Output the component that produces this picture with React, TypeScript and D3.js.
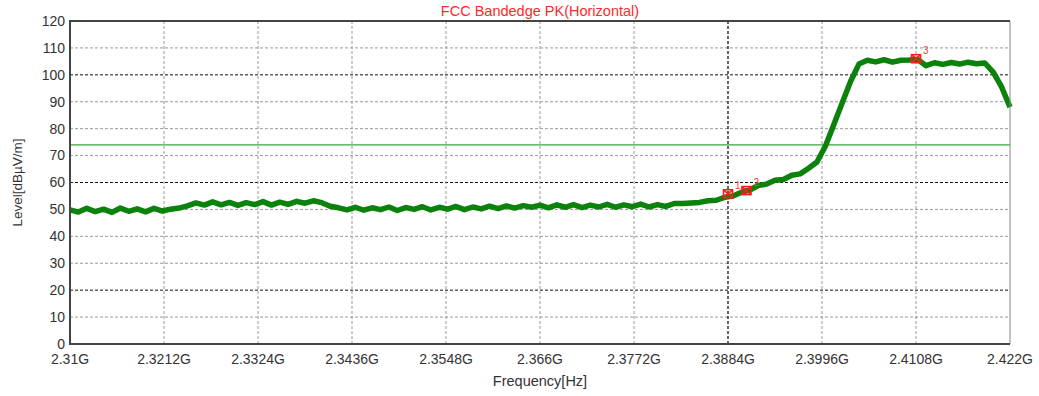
import React from "react";
import { scaleLinear, line, range } from "d3";

// frequency axis (GHz) and level axis (dBuV/m)
const freqTicks = [2.31, 2.3212, 2.3324, 2.3436, 2.3548, 2.366, 2.3772, 2.3884, 2.3996, 2.4108, 2.422];
const freqTickLabels = ["2.31G", "2.3212G", "2.3324G", "2.3436G", "2.3548G", "2.366G", "2.3772G", "2.3884G", "2.3996G", "2.4108G", "2.422G"];
const levelTicks = [0, 10, 20, 30, 40, 50, 60, 70, 80, 90, 100, 110, 120];

// trace frequencies: 2.310 .. 2.422 GHz, 1 MHz step
const traceFreqs = range(0, 113).map((i) => +(2.31 + i * 0.001).toFixed(3));
// trace levels
const traceLevels = [
  49.8, 49.0, 50.4, 49.2, 50.1, 48.9, 50.5, 49.3, 50.2, 49.1, 50.4, 49.4, 50.1, 50.5,
  51.3, 52.4,
  51.6, 52.8, 51.7, 52.6, 51.5, 52.5, 51.8, 52.9, 51.6, 52.7, 51.9, 53.0, 52.3, 53.2,
  52.5, 51.2, 50.6,
  49.8, 50.8, 49.7, 50.6, 49.9, 50.9, 49.6, 50.7, 50.0, 51.0, 49.8, 50.8, 50.1, 51.1,
  49.9, 50.9, 50.2, 51.2, 50.3, 51.3, 50.5, 51.4,
  50.8,
  51.6, 50.6, 51.7, 50.8, 51.8, 50.7, 51.6, 50.9, 51.9, 50.8, 51.7, 51.0, 52.0, 50.9,
  51.8, 51.1, 52.2, 52.2, 52.4, 52.6, 53.2,
  53.4, 54.5, 55.0, 56.4, 57.2, 58.9, 59.4, 60.8, 61.1, 62.7, 63.2, 65.3, 67.6,
  73.5, 81.5, 89.5, 97.5, 104.0, 105.4,
  104.8, 105.6, 104.7, 105.4, 105.5, 105.7, 103.4, 104.5, 103.9, 104.6, 104.0, 104.7,
  104.1, 104.4, 101.0, 95.5, 88.0,
];

const limitLevel = 74;

const markerFreqs = [2.3884, 2.3906, 2.4108];
const markerLevels = [55.8, 57.0, 106.0];
const markerLabels = ["1", "2", "3"];

const W = 1039;
const H = 396;
const margin = { top: 21, right: 29, bottom: 52, left: 70 };
const font = "'Liberation Sans', Arial, sans-serif";

const App: React.FC = () => {
  const x = scaleLinear().domain([2.31, 2.422]).range([margin.left, W - margin.right]);
  const y = scaleLinear().domain([0, 120]).range([H - margin.bottom, margin.top]);

  const path = line<number>()
    .x((_, i) => x(traceFreqs[i]))
    .y((d) => y(d))(traceLevels) ?? "";

  const [x0, x1] = x.range();
  const [y0, y1] = y.range();

  return (
    <svg
      width={W}
      height={H}
      style={{ position: "absolute", left: 0, top: 0, background: "#fff" }}
      fontFamily={font}
    >
      {/* titulo */}
      <text x={(x0 + x1) / 2} y={16} textAnchor="middle" fontSize={14.5} fill="#ff2a2a">
        FCC Bandedge PK(Horizontal)
      </text>

      {/* rejilla horizontal */}
      {levelTicks.slice(1, -1).map((t) => {
        const dark = t % 40 === 20;
        return (
          <line
            key={"h" + t}
            x1={x0}
            x2={x1}
            y1={y(t)}
            y2={y(t)}
            stroke={dark ? "#111" : "#999"}
            strokeWidth={1}
            strokeDasharray="3,2"
          />
        );
      })}

      {/* rejilla vertical */}
      {freqTicks.slice(1, -1).map((t, i) => {
        const dark = freqTickLabels[i + 1] === "2.3884G";
        return (
          <line
            key={"v" + i}
            x1={x(t)}
            x2={x(t)}
            y1={y1}
            y2={y0}
            stroke={dark ? "#111" : "#999"}
            strokeWidth={dark ? 1.3 : 1}
            strokeDasharray="3,2"
          />
        );
      })}

      {/* linea limite */}
      <line x1={x0} x2={x1} y1={y(limitLevel)} y2={y(limitLevel)} stroke="#3aa43a" strokeWidth={1.3} />

      {/* traza */}
      <path d={path} fill="none" stroke="#0b820b" strokeWidth={5.5} strokeLinejoin="round" />

      {/* marcadores */}
      {markerFreqs.map((f, i) => {
        const cx = x(f);
        const cy = y(markerLevels[i]);
        return (
          <g key={"m" + i} stroke="#ff1a1a" strokeWidth={1.6} fill="none">
            <rect x={cx - 4.5} y={cy - 4} width={9} height={8} />
            <line x1={cx - 4.5} y1={cy - 4} x2={cx + 4.5} y2={cy + 4} />
            <line x1={cx - 4.5} y1={cy + 4} x2={cx + 4.5} y2={cy - 4} />
            <text
              x={cx + 7}
              y={cy - 5}
              fontSize={10}
              fill="#ff4040"
              stroke="none"
            >
              {markerLabels[i]}
            </text>
          </g>
        );
      })}

      {/* bordes */}
      <line x1={x1} x2={x1} y1={y1} y2={y0} stroke="#888" strokeWidth={1} />
      <line x1={x0} x2={x1} y1={y1} y2={y1} stroke="#444" strokeWidth={2} />
      <line x1={x0} x2={x1} y1={y0} y2={y0} stroke="#444" strokeWidth={2} />
      <line x1={x0} x2={x0} y1={y1 - 1} y2={y0 + 1} stroke="#444" strokeWidth={2} />

      {/* eje Y */}
      {levelTicks.map((t) => (
        <text
          key={"yl" + t}
          x={x0 - 5}
          y={y(t)}
          dy="0.35em"
          textAnchor="end"
          fontSize={14}
          fill="#333"
        >
          {t}
        </text>
      ))}

      {/* eje X */}
      {freqTicks.map((t, i) => (
        <text key={"xl" + i} x={x(t)} y={364} textAnchor="middle" fontSize={14} fill="#333">
          {freqTickLabels[i]}
        </text>
      ))}

      <text x={(x0 + x1) / 2} y={386} textAnchor="middle" fontSize={14.5} fill="#333">
        Frequency[Hz]
      </text>
      <text
        transform={`translate(22,${(y0 + y1) / 2}) rotate(-90)`}
        textAnchor="middle"
        fontSize={13.5}
        fill="#333"
      >
        Level[dBµV/m]
      </text>
    </svg>
  );
};

export default App;
